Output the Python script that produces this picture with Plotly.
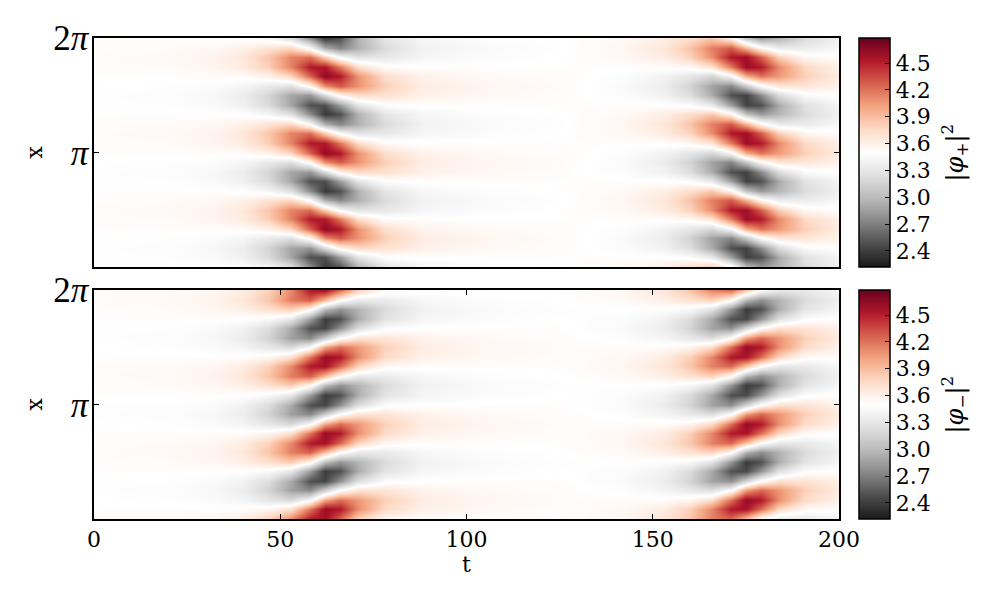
import math

from plotly import graph_objs as go

# time samples, denser around the two events
t_values = [0, 20, 32, 40, 47, 53, 58, 62, 66, 71, 78, 88, 105, 125, 142, 153,
            160, 166, 171, 175, 179, 184, 191, 200]
x_values = [2 * math.pi * i / 24 for i in range(25)]

# one spatial period (8 rows, bottom to top); the pattern repeats 3 times in x
plus_period = [
    [3.51, 3.51, 3.50, 3.49, 3.42, 3.24, 2.76, 2.37, 2.49, 2.94, 3.29, 3.43, 3.48, 3.50, 3.54, 3.62, 3.73, 3.84, 3.60, 3.05, 2.83, 2.97, 3.21, 3.38],
    [3.49, 3.49, 3.45, 3.38, 3.20, 2.88, 2.49, 2.49, 2.84, 3.28, 3.49, 3.51, 3.51, 3.51, 3.51, 3.50, 3.47, 3.32, 2.85, 2.42, 2.49, 2.91, 3.26, 3.41],
    [3.49, 3.48, 3.44, 3.35, 3.16, 2.88, 2.81, 3.20, 3.58, 3.75, 3.71, 3.60, 3.55, 3.52, 3.47, 3.39, 3.23, 2.91, 2.49, 2.42, 2.75, 3.21, 3.46, 3.50],
    [3.50, 3.49, 3.47, 3.42, 3.32, 3.25, 3.55, 4.10, 4.28, 4.08, 3.81, 3.63, 3.56, 3.53, 3.46, 3.35, 3.15, 2.86, 2.73, 3.07, 3.46, 3.68, 3.68, 3.59],
    [3.51, 3.51, 3.52, 3.53, 3.60, 3.78, 4.26, 4.65, 4.53, 4.08, 3.73, 3.59, 3.54, 3.52, 3.48, 3.40, 3.29, 3.18, 3.42, 3.97, 4.19, 4.05, 3.81, 3.64],
    [3.53, 3.53, 3.57, 3.64, 3.82, 4.14, 4.53, 4.53, 4.18, 3.74, 3.53, 3.51, 3.51, 3.51, 3.51, 3.52, 3.55, 3.70, 4.17, 4.60, 4.53, 4.11, 3.76, 3.61],
    [3.53, 3.54, 3.58, 3.67, 3.86, 4.14, 4.21, 3.82, 3.44, 3.27, 3.31, 3.42, 3.47, 3.50, 3.55, 3.63, 3.79, 4.11, 4.53, 4.60, 4.27, 3.81, 3.56, 3.52],
    [3.52, 3.53, 3.55, 3.60, 3.70, 3.77, 3.47, 2.92, 2.74, 2.94, 3.21, 3.39, 3.46, 3.49, 3.56, 3.67, 3.87, 4.16, 4.29, 3.95, 3.56, 3.34, 3.34, 3.43],
]
minus_period = [
    [3.53, 3.53, 3.56, 3.63, 3.80, 4.12, 4.53, 4.58, 4.24, 3.79, 3.55, 3.52, 3.51, 3.51, 3.56, 3.67, 3.86, 4.15, 4.24, 3.87, 3.49, 3.30, 3.32, 3.42],
    [3.51, 3.51, 3.51, 3.52, 3.57, 3.72, 4.19, 4.62, 4.53, 4.10, 3.75, 3.60, 3.55, 3.52, 3.55, 3.63, 3.81, 4.13, 4.53, 4.56, 4.22, 3.77, 3.54, 3.51],
    [3.50, 3.49, 3.46, 3.41, 3.30, 3.20, 3.46, 4.01, 4.22, 4.06, 3.81, 3.63, 3.56, 3.53, 3.52, 3.53, 3.58, 3.75, 4.22, 4.63, 4.53, 4.09, 3.74, 3.60],
    [3.49, 3.48, 3.44, 3.35, 3.15, 2.86, 2.75, 3.11, 3.49, 3.70, 3.69, 3.59, 3.54, 3.52, 3.48, 3.41, 3.31, 3.23, 3.49, 4.05, 4.24, 4.07, 3.81, 3.64],
    [3.49, 3.49, 3.46, 3.39, 3.22, 2.90, 2.49, 2.44, 2.78, 3.23, 3.47, 3.50, 3.51, 3.51, 3.46, 3.35, 3.16, 2.87, 2.78, 3.15, 3.53, 3.72, 3.70, 3.60],
    [3.51, 3.51, 3.51, 3.50, 3.45, 3.30, 2.83, 2.40, 2.49, 2.92, 3.27, 3.42, 3.47, 3.50, 3.47, 3.39, 3.21, 2.89, 2.49, 2.46, 2.80, 3.25, 3.48, 3.51],
    [3.52, 3.53, 3.56, 3.61, 3.72, 3.82, 3.56, 3.01, 2.80, 2.96, 3.21, 3.39, 3.46, 3.49, 3.50, 3.49, 3.44, 3.27, 2.80, 2.39, 2.49, 2.93, 3.28, 3.42],
    [3.53, 3.54, 3.58, 3.67, 3.87, 4.16, 4.27, 3.91, 3.53, 3.32, 3.33, 3.43, 3.48, 3.50, 3.54, 3.61, 3.71, 3.79, 3.53, 2.97, 2.78, 2.95, 3.21, 3.38],
]

colorbar_ticks = [2.4, 2.7, 3.0, 3.3, 3.6, 3.9, 4.2, 4.5]
t_ticks = [0, 50, 100, 150, 200]
x_ticks = [math.pi, 2 * math.pi]
x_tick_labels = ['<i>π</i>', '2<i>π</i>']

Z_MIN = 2.22
Z_MAX = 4.78
SERIF = 'DejaVu Serif'
RDGY_R = [[0.0, '#1a1a1a'], [0.1, '#4d4d4d'], [0.2, '#878787'], [0.3, '#bababa'],
          [0.4, '#e0e0e0'], [0.5, '#ffffff'], [0.6, '#fddbc7'], [0.7, '#f4a582'],
          [0.8, '#d6604d'], [0.9, '#b2182b'], [1.0, '#67001f']]

# the page body adds an 8px margin, so everything sits 8px up and left
PLOT_X = [0.086, 0.831]
TOP_Y = [1 - 259 / 600, 1 - 30 / 600]
BOTTOM_Y = [1 - 511 / 600, 1 - 282 / 600]
TOP_MID = 1 - 144.5 / 600
BOTTOM_MID = 1 - 396.5 / 600


def make_panel(period, axis_suffix, bar_y):
    rows = period * 3 + period[:1]
    return go.Heatmap(x=t_values, y=x_values, z=rows, zmin=Z_MIN, zmax=Z_MAX,
                      zsmooth='best', colorscale=RDGY_R,
                      xaxis='x' + axis_suffix, yaxis='y' + axis_suffix,
                      colorbar=dict(x=0.851, xanchor='left', xpad=0, y=bar_y,
                                    yanchor='middle', ypad=0, len=229 / 600,
                                    thickness=31, tickvals=colorbar_ticks,
                                    ticktext=['%.1f' % v for v in colorbar_ticks],
                                    ticks='inside', ticklen=5, tickcolor='black',
                                    outlinecolor='black', outlinewidth=1.5,
                                    tickfont=dict(family=SERIF, size=22, color='black')))


def y_axis(domain):
    return dict(domain=domain, range=[0, 2 * math.pi], tickmode='array', automargin=False,
                tickvals=x_ticks, ticktext=x_tick_labels, ticks='inside',
                ticklen=5, tickcolor='black', mirror='ticks', showline=True,
                linecolor='black', linewidth=1.5, showgrid=False, zeroline=False,
                ticklabelstandoff=-3,
                tickfont=dict(family='Liberation Serif', size=35, color='black'),
                title=dict(text='x', standoff=5,
                           font=dict(family=SERIF, size=22, color='black')))


def bar_label(text, y):
    return dict(text=text, xref='paper', yref='paper', x=0.946, y=y, showarrow=False,
                xanchor='center', yanchor='middle', textangle=-90,
                font=dict(family=SERIF, size=24, color='black'))


fig = go.Figure(data=[
    make_panel(plus_period, '', TOP_MID),
    make_panel(minus_period, '2', BOTTOM_MID),
])
fig.update_layout(
    width=1000, height=600, margin=dict(l=0, r=0, t=0, b=0),
    paper_bgcolor='white', plot_bgcolor='white', showlegend=False,
    xaxis=dict(domain=PLOT_X, range=[0, 200], anchor='y', showticklabels=False,
               automargin=False, ticks='', showline=True, mirror=True, linecolor='black',
               linewidth=1.5, showgrid=False, zeroline=False),
    yaxis=dict(anchor='x', **y_axis(TOP_Y)),
    xaxis2=dict(domain=PLOT_X, range=[0, 200], anchor='y2', tickmode='array',
                automargin=False, tickvals=t_ticks, ticks='inside', ticklen=5,
                tickcolor='black', mirror='ticks', showline=True, linecolor='black',
                linewidth=1.5, showgrid=False, zeroline=False,
                tickfont=dict(family=SERIF, size=22, color='black'),
                title=dict(text='t', standoff=4,
                           font=dict(family=SERIF, size=22, color='black'))),
    yaxis2=dict(anchor='x2', **y_axis(BOTTOM_Y)),
    annotations=[bar_label('|<i>φ</i><sub>+</sub>|<sup>2</sup>', TOP_MID),
                 bar_label('|<i>φ</i><sub>−</sub>|<sup>2</sup>', BOTTOM_MID)],
)

fig.write_html("out.html")
